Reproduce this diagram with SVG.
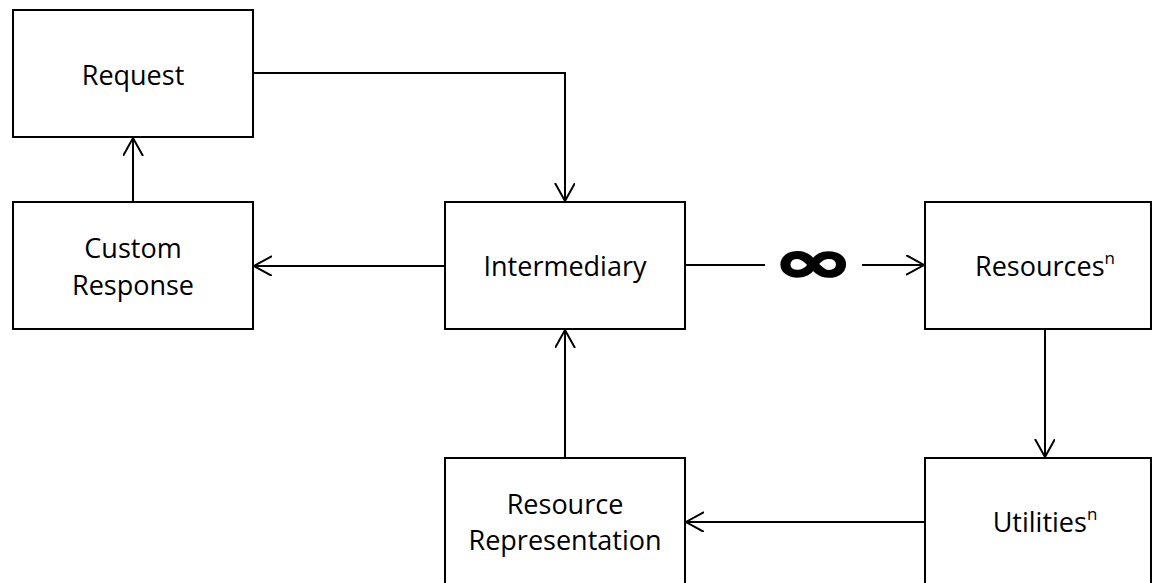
<svg xmlns="http://www.w3.org/2000/svg" width="1153" height="583" viewBox="0 0 1153 583">
<defs>
<style>
.box{fill:#fff;stroke:#000;stroke-width:2}
.lbl{font-family:"Open Sans","Liberation Sans",sans-serif;font-size:27px;fill:#000;text-anchor:middle}
.sup{font-size:17px}
.con{fill:none;stroke:#000;stroke-width:2}
</style>
<marker id="arr" markerWidth="24" markerHeight="24" refX="18" refY="10" orient="auto" markerUnits="userSpaceOnUse" viewBox="0 0 24 24">
<path d="M0,0 L18,10 L0,20" fill="none" stroke="#000" stroke-width="2"/>
</marker>
</defs>
<rect width="1153" height="583" fill="#fff"/>
<g id="request"><rect class="box" x="13" y="10" width="240" height="127"/><text class="lbl" x="133" y="85">Request</text></g>
<g id="custom-response"><rect class="box" x="13" y="202" width="240" height="127"/><text class="lbl" x="133" y="258">Custom</text><text class="lbl" x="133" y="295">Response</text></g>
<g id="intermediary"><rect class="box" x="445" y="202" width="240" height="127"/><text class="lbl" x="565" y="276">Intermediary</text></g>
<g id="resources"><rect class="box" x="925" y="202" width="226" height="127"/><text class="lbl" x="1045" y="276">Resources<tspan class="sup" dy="-12">n</tspan></text></g>
<g id="resource-representation"><rect class="box" x="445" y="458" width="240" height="150"/><text class="lbl" x="565" y="514">Resource</text><text class="lbl" x="565" y="550">Representation</text></g>
<g id="utilities"><rect class="box" x="925" y="458" width="226" height="150"/><text class="lbl" x="1045" y="532">Utilities<tspan class="sup" dy="-12">n</tspan></text></g>
<g id="connectors">
<path class="con" d="M253,73 H565 V201" marker-end="url(#arr)"/>
<path class="con" d="M133,202 V138" marker-end="url(#arr)"/>
<path class="con" d="M445,266 H254" marker-end="url(#arr)"/>
<path class="con" d="M685,265 H765"/>
<path class="con" d="M862,265 H924" marker-end="url(#arr)"/>
<text transform="translate(813,264) scale(1.3,0.8)" x="0" y="22" font-family="DejaVu Sans,sans-serif" font-weight="bold" font-size="74" text-anchor="middle" stroke="#000" stroke-width="2.5">∞</text>
<path class="con" d="M1045,329 V457" marker-end="url(#arr)"/>
<path class="con" d="M925,522 H686" marker-end="url(#arr)"/>
<path class="con" d="M565,458 V330" marker-end="url(#arr)"/>
</g>
</svg>
